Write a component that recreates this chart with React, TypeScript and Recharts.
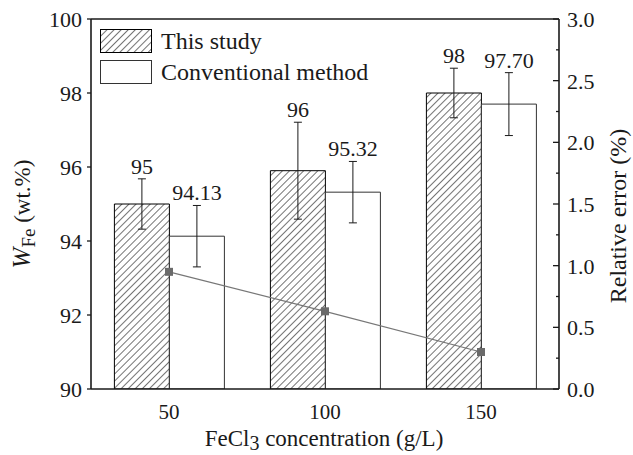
import React from 'react';
import {
  ComposedChart,
  Bar,
  Line,
  XAxis,
  YAxis,
  ErrorBar,
  LabelList,
  Legend,
  ReferenceLine,
} from 'recharts';

// FeCl3 concentration (g/L)
const concentrations = ['50', '100', '150'];
// Fe content, this study (wt.%) and its error
const thisStudy = [95.0, 95.9, 98.0];
const thisStudyErr = [0.68, 1.31, 0.67];
// Fe content, conventional method (wt.%) and its error
const conventional = [94.13, 95.32, 97.7];
const conventionalErr = [0.83, 0.83, 0.85];
// Relative error between the two methods (%)
const relativeError = [0.95, 0.63, 0.3];

const leftTicks = [90, 92, 94, 96, 98, 100];
const rightTicks = [0, 0.25, 0.5, 0.75, 1.0, 1.25, 1.5, 1.75, 2.0, 2.25, 2.5, 2.75, 3.0];

const data = concentrations.map((c, i) => ({
  conc: c,
  study: thisStudy[i],
  studyErr: thisStudyErr[i],
  conv: conventional[i],
  convErr: conventionalErr[i],
  rel: relativeError[i],
}));

const FONT = "'Liberation Serif', 'Times New Roman', serif";
const INK = '#1a1a1a';
const LEFT_MIN = 90;

const RightTick = (props: any) => {
  const { x, y, payload } = props;
  const v = payload.value as number;
  const major = Math.abs(v * 2 - Math.round(v * 2)) < 1e-6;
  return (
    <g>
      <line x1={x - (major ? 6 : 3)} x2={x} y1={y} y2={y} stroke={INK} strokeWidth={1.3} />
      {major && (
        <text x={x + 8} y={y} dy="0.36em" textAnchor="start" fontFamily={FONT} fontSize={22} fill={INK}>
          {v.toFixed(1)}
        </text>
      )}
    </g>
  );
};

const makeValueLabel = (errs: number[], fmt: (v: number) => string, vals: number[]) => (props: any) => {
  const { x, y, width, height, value } = props;
  let idx = props.index;
  if (idx === undefined || idx === null) idx = vals.indexOf(value);
  const err = errs[idx] ?? 0;
  const pxPerUnit = height / (value - LEFT_MIN);
  const errTop = y - err * pxPerUnit;
  return (
    <text
      x={x + width / 2}
      y={errTop - 5}
      textAnchor="middle"
      fontFamily={FONT}
      fontSize={22}
      fill={INK}
    >
      {fmt(value)}
    </text>
  );
};

const SquareDot = (props: any) => {
  const { cx, cy } = props;
  if (cx == null || cy == null) return null;
  return <rect x={cx - 4} y={cy - 4} width={8} height={8} fill="#6a6a6a" />;
};

const LegendBox = () => (
  <div style={{ fontFamily: FONT, fontSize: 24, color: INK }}>
    {[
      { name: 'This study', fill: 'url(#hatch)', stroke: '#000' },
      { name: 'Conventional method', fill: '#fff', stroke: '#333' },
    ].map((item, i) => (
      <div key={item.name} style={{ display: 'flex', alignItems: 'center', height: 24, marginBottom: i === 0 ? 7 : 0 }}>
        <svg width={52} height={24} style={{ display: 'block' }}>
          <rect x={0.5} y={0.5} width={51} height={23} fill={item.fill} stroke={item.stroke} strokeWidth={1} />
        </svg>
        <span style={{ marginLeft: 9, lineHeight: '24px', whiteSpace: 'nowrap' }}>{item.name}</span>
      </div>
    ))}
  </div>
);

export default function App() {
  return (
    <div style={{ position: 'absolute', left: 0, top: 0, background: '#fff' }}>
      <ComposedChart
        width={633}
        height={455}
        data={data}
        margin={{ top: 19, right: 0, bottom: 0, left: 0 }}
        barCategoryGap="15%"
        barGap={0}
      >
        <defs>
          <pattern id="hatch" patternUnits="userSpaceOnUse" width={5} height={5} patternTransform="rotate(45)">
            <rect width={5} height={5} fill="#fff" />
            <line x1={0} y1={0} x2={0} y2={5} stroke="#000" strokeWidth={1.1} />
          </pattern>
        </defs>
        <XAxis
          dataKey="conc"
          type="category"
          tickLine={false}
          axisLine={{ stroke: INK, strokeWidth: 1.6 }}
          tick={{ fontFamily: FONT, fontSize: 21, fill: INK }}
          tickMargin={9}
          height={66}
          label={(p: any) => (
            <text x={324} y={446} textAnchor="middle" fontFamily={FONT} fontSize={23} fill={INK}>
              FeCl
              <tspan dy={4} fontSize={20}>3</tspan>
              <tspan dy={-4}> concentration (g/L)</tspan>
            </text>
          )}
        />
        <YAxis
          yAxisId="left"
          domain={[90, 100]}
          ticks={leftTicks}
          interval={0}
          width={91}
          tickSize={4}
          tickMargin={5}
          tickLine={{ stroke: INK, strokeWidth: 1.3 }}
          axisLine={{ stroke: INK, strokeWidth: 1.6 }}
          tick={{ fontFamily: FONT, fontSize: 22, fill: INK }}
          allowDataOverflow
          label={(p: any) => (
            <text
              x={0}
              y={0}
              transform="translate(30 214) rotate(-90)"
              textAnchor="middle"
              fontFamily={FONT}
              fontSize={23}
              fill={INK}
            >
              <tspan fontStyle="italic" fontSize={25}>W</tspan>
              <tspan fontSize={19} dy={5}>Fe</tspan>
              <tspan dy={-5}> (wt.%)</tspan>
            </text>
          )}
        />
        <YAxis
          yAxisId="right"
          orientation="right"
          domain={[0, 3]}
          ticks={rightTicks}
          interval={0}
          width={74}
          tickSize={0}
          tickMargin={0}
          tickLine={false}
          axisLine={{ stroke: INK, strokeWidth: 1.6 }}
          tick={<RightTick />}
          label={(p: any) => (
            <text
              x={0}
              y={0}
              transform="translate(626 216) rotate(-90)"
              textAnchor="middle"
              fontFamily={FONT}
              fontSize={24}
              fill={INK}
            >
              Relative error (%)
            </text>
          )}
        />
        <ReferenceLine yAxisId="left" y={100} stroke={INK} strokeWidth={1.6} />
        <Legend
          layout="horizontal"
          verticalAlign="middle"
          align="center"
          content={<LegendBox />}
          wrapperStyle={{ position: 'absolute', left: 100, top: 29, width: 'auto', height: 'auto' }}
        />
        <Bar
          yAxisId="left"
          dataKey="study"
          name="This study"
          fill="url(#hatch)"
          stroke="#000"
          strokeWidth={1}
          isAnimationActive={false}
        >
          <ErrorBar dataKey="studyErr" width={4} stroke={INK} strokeWidth={1} direction="y" />
          <LabelList
            dataKey="study"
            content={makeValueLabel(thisStudyErr, (v) => String(Math.round(v)), thisStudy)}
          />
        </Bar>
        <Bar
          yAxisId="left"
          dataKey="conv"
          name="Conventional method"
          fill="#fff"
          stroke="#333"
          strokeWidth={1}
          isAnimationActive={false}
        >
          <ErrorBar dataKey="convErr" width={4} stroke={INK} strokeWidth={1} direction="y" />
          <LabelList
            dataKey="conv"
            content={makeValueLabel(conventionalErr, (v) => v.toFixed(2), conventional)}
          />
        </Bar>
        <Line
          yAxisId="right"
          dataKey="rel"
          name="Relative error"
          stroke="#777"
          strokeWidth={1.2}
          dot={<SquareDot />}
          activeDot={false}
          legendType="none"
          isAnimationActive={false}
        />
      </ComposedChart>
    </div>
  );
}
